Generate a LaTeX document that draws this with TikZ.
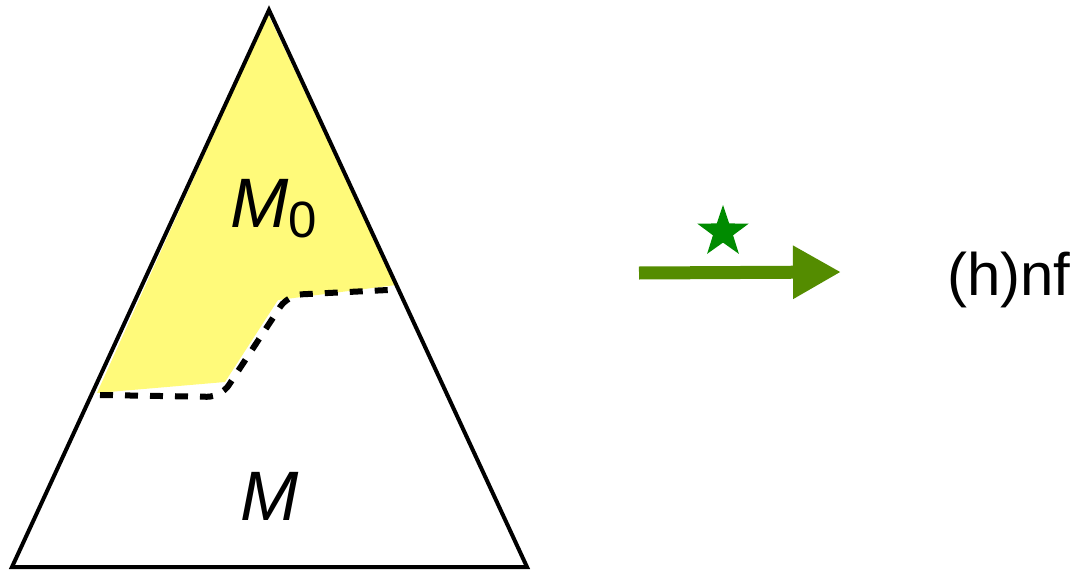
\documentclass[tikz,border=0pt]{standalone}
\usepackage{fontspec}
\setmainfont{Liberation Sans}
\usetikzlibrary{shapes.geometric,arrows.meta}
\definecolor{regionyellow}{RGB}{255,250,122}
\definecolor{arrowgreen}{RGB}{84,140,0}
\definecolor{stargreen}{RGB}{0,139,0}
\tikzset{
  tri/.style={draw=black,line width=4pt,line join=miter},
  border/.style={draw=black,line width=6pt,dash pattern=on 13pt off 12pt,rounded corners=14pt},
  bigtext/.style={inner sep=0pt,font=\fontsize{70}{84}\selectfont},
  labeltext/.style={inner sep=0pt,font=\fontsize{60}{72}\selectfont},
  fatarrow/.style={draw=arrowgreen,line width=13pt,-{Triangle[length=48pt,width=50pt]}},
  starmark/.style={star,star points=5,star point ratio=2.55,minimum size=54pt,inner sep=0pt,fill=stargreen,draw=none}
}
\begin{document}
\begin{tikzpicture}[x=1pt,y=-1pt]
\useasboundingbox (0,0) rectangle (1082,570);
% corners of the triangle
\coordinate (apex) at (269,10);
\coordinate (bl) at (12,567);
\coordinate (br) at (527,567);
% yellow region M_0
\fill[regionyellow] (268,14) -- (97,393) -- (225,382) -- (278,300) -- (396,285) -- cycle;
% dashed boundary
\coordinate (dA) at (100,395);
\coordinate (dB) at (388,290);
\draw[border] (dA) -- (221,397) -- (288,295) -- (dB);
% triangle
\draw[tri] (apex) -- (br) -- (bl) -- cycle;
% labels
\node[bigtext,anchor=base west] (m0) at (230,227) {\textit{M}\raisebox{-10pt}{\fontsize{51}{60}\selectfont 0}};
\node[bigtext,anchor=base] (m) at (270,520) {\textit{M}};
% arrow
\coordinate (aS) at (639,273);
\coordinate (aE) at (841,272);
\draw[fatarrow] (aS) -- (aE);
\node[starmark] (st) at (723,232) {};
\node[labeltext,anchor=base west] (hnf) at (947,295) {(h)nf};
\end{tikzpicture}
\end{document}
